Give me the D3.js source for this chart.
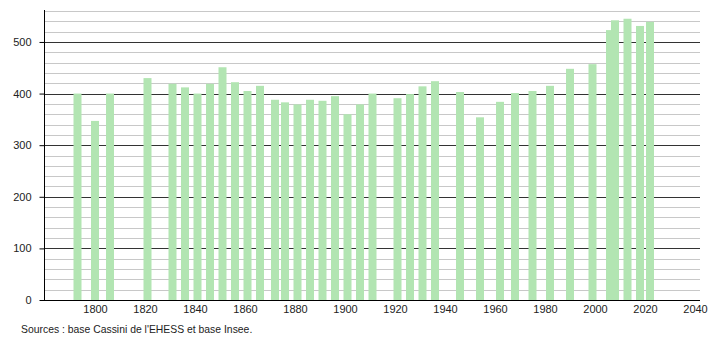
<!DOCTYPE html>
<html>
<head>
<meta charset="utf-8">
<script src="https://cdn.jsdelivr.net/npm/d3@7"></script>
<style>
  body { margin: 0; background: #fff; }
  svg text { font-family: "Liberation Sans", Arial, sans-serif; }
</style>
</head>
<body>
<svg id="chart" width="710" height="340"></svg>
<script>
const years = [1793, 1800, 1806, 1821, 1831, 1836, 1841, 1846, 1851, 1856,
               1861, 1866, 1872, 1876, 1881, 1886, 1891, 1896, 1901, 1906,
               1911, 1921, 1926, 1931, 1936, 1946, 1954, 1962, 1968, 1975,
               1982, 1990, 1999, 2006, 2008, 2013, 2018, 2022];
const population = [400, 347, 400, 430, 419, 412, 400, 419, 451, 422,
                    405, 415, 388, 383, 379, 388, 386, 395, 360, 379,
                    400, 391, 399, 414, 424, 403, 354, 384, 401, 405,
                    415, 448, 457, 523, 542, 545, 531, 539];
const xTicks = [1800, 1820, 1840, 1860, 1880, 1900, 1920, 1940, 1960, 1980, 2000, 2020, 2040];
const yTicks = [0, 100, 200, 300, 400, 500];
const source = "Sources : base Cassini de l'EHESS et base Insee.";

const svg = d3.select("#chart");

const xScale = d3.scaleLinear().domain([1780, 2042]).range([45, 700]);
const yScale = d3.scaleLinear().domain([0, 560]).range([300, 11]);

// minor grid every 20
const minor = d3.range(20, 561, 20).filter(d => d % 100 !== 0);
svg.append("g")
   .selectAll("line")
   .data(minor)
   .join("line")
   .attr("x1", 44).attr("x2", 700)
   .attr("y1", d => Math.round(yScale(d)) + 0.5)
   .attr("y2", d => Math.round(yScale(d)) + 0.5)
   .style("stroke", "#c8c8c8");

// major grid
svg.append("g")
   .selectAll("line")
   .data(yTicks.filter(d => d > 0))
   .join("line")
   .attr("x1", 44).attr("x2", 700)
   .attr("y1", d => Math.round(yScale(d)) + 0.5)
   .attr("y2", d => Math.round(yScale(d)) + 0.5)
   .style("stroke", "#333");

// bars
svg.append("g")
   .selectAll("rect")
   .data(years)
   .join("rect")
   .attr("x", d => xScale(d) - 4)
   .attr("width", 8)
   .attr("y", (d, i) => yScale(population[i]))
   .attr("height", (d, i) => yScale(0) - yScale(population[i]))
   .style("fill", "#b2e5b2");

// y axis with minor ticks
const yAxis = svg.append("g").attr("transform", "translate(44.5,0)");
yAxis.call(d3.axisLeft(yScale).tickValues(d3.range(0, 561, 20)).tickSize(2).tickFormat(""))
     .call(g => g.select(".domain").remove());
yAxis.call(d3.axisLeft(yScale).tickValues(yTicks).tickSize(5).tickPadding(8))
     .call(g => g.select(".domain").remove())
     .call(g => g.selectAll("text").style("font-size", "11px").style("fill", "#222"));
yAxis.selectAll("line").style("stroke", "#000");
yAxis.append("line")
     .attr("y1", 10).attr("y2", 300.5)
     .style("stroke", "#000");

// x axis
const xAxis = svg.append("g").attr("transform", "translate(0,300.5)");
xAxis.call(d3.axisBottom(xScale).tickValues(xTicks).tickSize(0).tickPadding(5).tickFormat(d3.format("d")))
     .call(g => g.select(".domain").remove())
     .call(g => g.selectAll("text").style("font-size", "11px").style("fill", "#222"));
xAxis.append("line")
     .attr("x1", 44).attr("x2", 700)
     .style("stroke", "#000");

svg.append("text")
   .attr("x", 21).attr("y", 333)
   .style("font-size", "10.4px")
   .style("fill", "#222")
   .text(source);
</script>
</body>
</html>
